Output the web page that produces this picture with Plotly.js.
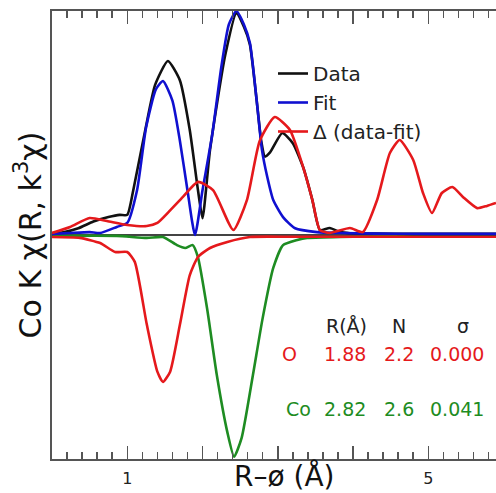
<!DOCTYPE html>
<html>
<head>
<meta charset="utf-8">
<script src="https://cdn.plot.ly/plotly-3.0.1.min.js"></script>
<style>
html,body{margin:0;padding:0;background:#fff;}
#chart{width:496px;height:493px;}
</style>
</head>
<body>
<div id="chart"></div>
<script>
// Data, Fit and difference (positive side)
const dataR = [0, 0.15, 0.35, 0.55, 0.75, 0.9, 1.0, 1.08, 1.24, 1.37, 1.54, 1.70, 1.83, 1.94, 2.0, 2.10, 2.30, 2.45, 2.55, 2.63, 2.72, 2.78, 2.83, 2.90, 3.06, 3.20, 3.34, 3.46, 3.56, 3.69, 3.83, 3.96, 4.3, 4.8, 5.3, 5.9];
const dataV = [0.005, 0.012, 0.03, 0.06, 0.08, 0.09, 0.09, 0.20, 0.47, 0.67, 0.777, 0.69, 0.47, 0.20, 0.075, 0.38, 0.80, 0.99, 0.93, 0.85, 0.60, 0.42, 0.35, 0.37, 0.455, 0.41, 0.30, 0.156, 0.022, 0.031, 0.013, 0.008, 0.006, 0.005, 0.005, 0.005];

const fitR = [0, 0.24, 0.5, 0.64, 0.86, 1.0, 1.13, 1.25, 1.38, 1.475, 1.6, 1.7, 1.8, 1.9, 2.0, 2.13, 2.25, 2.35, 2.45, 2.55, 2.63, 2.72, 2.79, 2.86, 2.94, 3.07, 3.23, 3.52, 3.83, 4.3, 5.0, 5.9];
const fitV = [0.005, 0.009, 0.013, 0.009, 0.036, 0.054, 0.20, 0.48, 0.65, 0.6875, 0.60, 0.42, 0.20, 0.0, 0.20, 0.45, 0.75, 0.94, 1.0, 0.94, 0.857, 0.60, 0.38, 0.26, 0.156, 0.08, 0.03, 0.013, 0.009, 0.006, 0.005, 0.005];

const diffR = [0, 0.24, 0.50, 0.73, 1.0, 1.26, 1.40, 1.57, 1.74, 1.94, 2.14, 2.41, 2.59, 2.76, 2.96, 3.16, 3.34, 3.46, 3.56, 3.69, 3.96, 4.13, 4.32, 4.49, 4.62, 4.80, 4.93, 5.05, 5.18, 5.32, 5.46, 5.65, 5.78, 5.90];
const diffV = [0.009, 0.036, 0.076, 0.0625, 0.045, 0.04, 0.054, 0.11, 0.17, 0.237, 0.20, 0.022, 0.156, 0.42, 0.527, 0.47, 0.30, 0.156, 0.022, 0.009, 0.031, 0.013, 0.156, 0.366, 0.424, 0.335, 0.1875, 0.098, 0.1875, 0.214, 0.17, 0.12, 0.13, 0.143];

// Shell contributions (negative side)
const oR = [0, 0.37, 0.64, 0.84, 1.0, 1.10, 1.26, 1.40, 1.475, 1.57, 1.70, 1.83, 1.94, 2.10, 2.33, 2.63, 3.2, 4.0, 5.0, 5.9];
const oV = [-0.009, -0.013, -0.036, -0.076, -0.076, -0.12, -0.40, -0.61, -0.656, -0.61, -0.40, -0.18, -0.098, -0.058, -0.031, -0.009, -0.008, -0.008, -0.008, -0.008];

const coR = [0, 0.86, 1.26, 1.475, 1.66, 1.77, 1.87, 1.94, 2.06, 2.19, 2.33, 2.42, 2.52, 2.67, 2.80, 2.94, 3.07, 3.26, 3.39, 3.83, 4.5, 5.9];
const coV = [-0.004, -0.004, -0.013, -0.009, -0.045, -0.058, -0.045, -0.10, -0.326, -0.625, -0.88, -0.99, -0.906, -0.625, -0.37, -0.147, -0.045, -0.022, -0.013, -0.009, -0.005, -0.005];

// Tick labels
const xLabelVals = [1, 5];
const xLabelText = ['1', '5'];

// Fit parameters table
const tableHeader = ['R(Å)', 'N', 'σ'];
const shellNames = ['O', 'Co'];
const shellR = ['1.88', '2.82'];
const shellN = ['2.2', '2.6'];
const shellSigma = ['0.000', '0.041'];

const FONT = 'DejaVu Sans, sans-serif';
const RED = '#e5191c';
const GREEN = '#1e8c22';
const BLUE = '#1010d0';
const AX = '#555';

const lw = 2.6;
const sm = 0.55;
const traces = [
  {x: coR, y: coV, mode: 'lines', line: {color: GREEN, width: lw, shape: 'spline', smoothing: sm}, showlegend: false, name: 'Co'},
  {x: oR, y: oV, mode: 'lines', line: {color: RED, width: lw, shape: 'spline', smoothing: sm}, showlegend: false, name: 'O'},
  {x: dataR, y: dataV, mode: 'lines', name: 'Data', line: {color: '#111', width: lw, shape: 'spline', smoothing: sm}},
  {x: fitR, y: fitV, mode: 'lines', name: 'Fit', line: {color: BLUE, width: lw, shape: 'spline', smoothing: sm}},
  {x: diffR, y: diffV, mode: 'lines', name: 'Δ (data-fit)', line: {color: RED, width: lw, shape: 'spline', smoothing: sm}},
  // empty trace that carries the unlabeled integer tick axis
  {x: [], y: [], xaxis: 'x2', yaxis: 'y', mode: 'lines', showlegend: false, hoverinfo: 'skip'}
];

function px2paperX(px){ return (px - 52) / 444; }
function py2paperY(py){ return (459 - py) / 448; }
function txt(text, px, py, font){
  return {xref: 'paper', yref: 'paper', x: px2paperX(px), y: py2paperY(py), xanchor: 'center', yanchor: 'middle', text: text, showarrow: false, font: font};
}
const annotations = [];
const headerX = [346, 399, 463];
tableHeader.forEach((t, i) => annotations.push(txt(t, headerX[i], 326, {family: FONT, size: 19, color: '#222'})));
const rowY = [354, 409];
const rowColors = [RED, GREEN];
const nameX = [289, 298];
shellNames.forEach((n, r) => {
  const f = {family: FONT, size: 19, color: rowColors[r]};
  annotations.push(txt(n, nameX[r], rowY[r], f));
  annotations.push(txt(shellR[r], 345, rowY[r], f));
  annotations.push(txt(shellN[r], 399, rowY[r], f));
  annotations.push(txt(shellSigma[r], 457, rowY[r], f));
});
// x-axis title, sitting between the two tick labels as in the original
annotations.push(txt('R–ø (Å)', 284, 476, {family: FONT, size: 28, color: '#111'}));

const layout = {
  width: 496, height: 493,
  margin: {l: 52, r: 0, t: 11, b: 34},
  paper_bgcolor: '#fff', plot_bgcolor: '#fff',
  font: {family: FONT, color: '#222'},
  showlegend: true,
  legend: {x: px2paperX(273), y: py2paperY(54), xanchor: 'left', yanchor: 'top', bgcolor: 'rgba(0,0,0,0)', font: {family: FONT, size: 20}, tracegroupgap: 0},
  xaxis: {
    range: [0, 5.9], showgrid: false, zeroline: false,
    showline: true, linecolor: AX, linewidth: 2, mirror: 'ticks',
    ticks: 'inside', ticklen: 13, tickwidth: 1.5, tickcolor: AX,
    tickmode: 'array', tickvals: xLabelVals, ticktext: xLabelText,
    tickfont: {family: FONT, size: 16, color: '#222'}, ticklabelstandoff: 4,
    minor: {dtick: 0.2, tick0: 0, ticks: 'inside', ticklen: 7, tickwidth: 1.5, tickcolor: AX}
  },
  xaxis2: {
    matches: 'x', overlaying: 'x', anchor: 'y', side: 'bottom',
    range: [0, 5.9], showgrid: false, zeroline: false,
    showline: false, mirror: 'ticks',
    ticks: 'inside', ticklen: 13, tickwidth: 1.5, tickcolor: AX,
    tickmode: 'linear', tick0: 0, dtick: 1, showticklabels: false
  },
  yaxis: {
    range: [-1.0, 1.0], showgrid: false,
    zeroline: true, zerolinecolor: '#444', zerolinewidth: 2,
    showline: true, linecolor: AX, linewidth: 2, mirror: false,
    ticks: '', showticklabels: false,
    title: {text: 'Co K χ(R, k<sup>3</sup>χ)', font: {family: FONT, size: 30, color: '#111'}, standoff: 0}
  },
  annotations: annotations
};

Plotly.newPlot('chart', traces, layout, {staticPlot: true, displayModeBar: false});
</script>
</body>
</html>
